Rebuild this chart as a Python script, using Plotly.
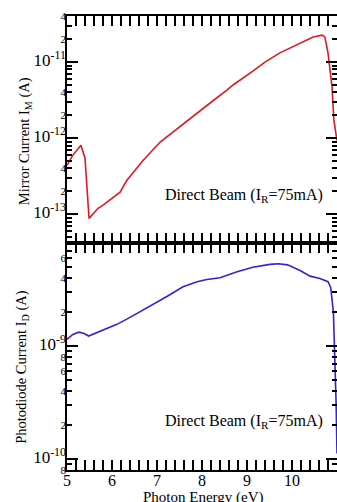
import numpy as np
import plotly.graph_objects as go

# ---------------- data ----------------
energy_mirror = [5.0, 5.13, 5.31, 5.40, 5.49, 5.58, 5.69, 5.80, 5.96, 6.18, 6.33, 6.69,
                 7.07, 7.29, 7.51, 7.73, 7.96, 8.18, 8.56, 8.69, 9.13, 9.40, 9.73, 10.10,
                 10.47, 10.67, 10.73, 10.80, 10.89, 10.93, 11.0]
mirror_current = [4.4e-13, 6.0e-13, 8.1e-13, 5.46e-13, 8.85e-14, 1.02e-13, 1.2e-13, 1.32e-13,
                  1.55e-13, 1.95e-13, 2.8e-13, 5.1e-13, 8.9e-13, 1.13e-12, 1.4e-12, 1.78e-12,
                  2.29e-12, 2.9e-12, 4.3e-12, 5.0e-12, 7.6e-12, 1.0e-11, 1.32e-11, 1.66e-11,
                  2.14e-11, 2.26e-11, 2.14e-11, 1.32e-11, 4.7e-12, 1.74e-12, 9.3e-13]

energy_diode = [5.0, 5.13, 5.26, 5.37, 5.48, 5.73, 5.96, 6.11, 6.4, 6.84, 7.22, 7.58, 7.89,
                8.11, 8.4, 8.78, 9.0, 9.13, 9.51, 9.7, 9.9, 10.18, 10.4, 10.62, 10.8, 10.86,
                10.92, 10.96, 10.98, 11.0]
diode_current = [1.15e-9, 1.27e-9, 1.33e-9, 1.30e-9, 1.23e-9, 1.36e-9, 1.48e-9, 1.56e-9,
                 1.80e-9, 2.24e-9, 2.75e-9, 3.36e-9, 3.72e-9, 3.89e-9, 4.03e-9, 4.57e-9,
                 4.83e-9, 5.0e-9, 5.3e-9, 5.37e-9, 5.25e-9, 4.68e-9, 4.17e-9, 3.98e-9,
                 3.72e-9, 3.31e-9, 2.0e-9, 6.3e-10, 3.16e-10, 1.12e-10]

x_ticks = [5, 6, 7, 8, 9, 10, 11]
x_ticktext = ["5", "6", "7", "8", "9", "10", "11"]

top_decades = [1e-13, 1e-12, 1e-11]
top_decade_text = ["10<sup>-13</sup>", "10<sup>-12</sup>", "10<sup>-11</sup>"]
top_small_vals = [2e-13, 4e-13, 2e-12, 4e-12, 2e-11, 4e-11]
top_small_text = ["2", "4", "2", "4", "2", "4"]

bot_decades = [1e-10, 1e-9]
bot_decade_text = ["10<sup>-10</sup>", "10<sup>-9</sup>"]
bot_small_vals = [8e-11, 2e-10, 4e-10, 6e-10, 8e-10, 2e-9, 4e-9, 6e-9]
bot_small_text = ["8", "2", "4", "6", "8", "2", "4", "6"]

top_range = [np.log10(4.2e-14), np.log10(4.03e-11)]
bot_range = [np.log10(7.99e-11), np.log10(8.2e-9)]

label_text = "Direct Beam (I<sub>R</sub>=75mA)"

# ---------------- figure ----------------
FONT = "Liberation Serif, Times New Roman, serif"
RED = "#e3191f"
BLUE = "#3a1fd4"
BIG = 17


def minor_vals(lo, hi):
    out = []
    for d in range(int(np.floor(lo)) - 1, int(np.ceil(hi)) + 1):
        for m in range(2, 10):
            v = m * 10.0 ** d
            if lo <= np.log10(v) <= hi:
                out.append(v)
    return out


def label_axis(decades, dtext, small, stext):
    vals = list(decades) + list(small)
    texts = [f"<span style='font-size:{BIG}px'>{t}</span>" for t in dtext] + list(stext)
    return vals, texts


fig = go.Figure()
fig.add_trace(go.Scatter(x=energy_mirror, y=mirror_current, mode="lines",
                         line=dict(color=RED, width=1.6), xaxis="x", yaxis="y",
                         showlegend=False))
fig.add_trace(go.Scatter(x=energy_diode, y=diode_current, mode="lines",
                         line=dict(color=BLUE, width=1.6), xaxis="x2", yaxis="y2",
                         showlegend=False))

axis_common = dict(showline=True, linecolor="black", linewidth=2, mirror="allticks",
                   ticks="inside", tickcolor="black", tickwidth=1.5, showgrid=False,
                   zeroline=False)

xcommon = dict(axis_common, range=[5, 11], tickmode="array", tickvals=x_ticks,
               ticktext=x_ticktext, ticklen=10, ticklabelstandoff=-5,
               minor=dict(dtick=0.2, tick0=5, ticklen=5, ticks="inside",
                          tickwidth=1.5, tickcolor="black"),
               tickfont=dict(family=FONT, size=16, color="black"))

tv3, tt3 = label_axis(top_decades, top_decade_text, top_small_vals, top_small_text)
tv4, tt4 = label_axis(bot_decades, bot_decade_text, bot_small_vals, bot_small_text)

overlay_common = dict(type="log", showline=False, showgrid=False, zeroline=False,
                      ticks="", tickmode="array", ticklabelstandoff=0,
                      tickfont=dict(family=FONT, size=11, color="black"))

fig.update_layout(
    width=337, height=502,
    margin=dict(l=67, r=0, t=16, b=32, autoexpand=False),
    paper_bgcolor="white", plot_bgcolor="white",
    xaxis=dict(xcommon, anchor="y", showticklabels=False),
    xaxis2=dict(xcommon, anchor="y2", matches="x", showticklabels=True),
    yaxis=dict(axis_common, type="log", domain=[0.5, 1], range=top_range, anchor="x",
               tickmode="array", tickvals=top_decades, ticklen=11, showticklabels=False,
               minor=dict(tickmode="array", tickvals=minor_vals(*top_range), ticklen=5,
                          ticks="inside", tickwidth=1.5, tickcolor="black")),
    yaxis3=dict(overlay_common, overlaying="y", anchor="x", range=top_range,
                tickvals=tv3, ticktext=tt3),
    yaxis2=dict(axis_common, type="log", domain=[0, 0.5], range=bot_range, anchor="x2",
                tickmode="array", tickvals=bot_decades, ticklen=11, showticklabels=False,
                minor=dict(tickmode="array", tickvals=minor_vals(*bot_range), ticklen=5,
                           ticks="inside", tickwidth=1.5, tickcolor="black")),
    yaxis4=dict(overlay_common, overlaying="y2", anchor="x2", range=bot_range,
                tickvals=tv4, ticktext=tt4),
)

# invisible traces so the overlay axes are drawn
fig.add_trace(go.Scatter(x=[None], y=[None], xaxis="x", yaxis="y3", showlegend=False,
                         hoverinfo="skip"))
fig.add_trace(go.Scatter(x=[None], y=[None], xaxis="x2", yaxis="y4", showlegend=False,
                         hoverinfo="skip"))

annots = [
    dict(text=label_text, x=7.13, y=-12.75, xref="x", yref="y", xanchor="left",
         yanchor="middle", showarrow=False, font=dict(family=FONT, size=16, color="black")),
    dict(text=label_text, x=7.13, y=-9.667, xref="x2", yref="y2", xanchor="left",
         yanchor="middle", showarrow=False, font=dict(family=FONT, size=16, color="black")),
    dict(text="Mirror Current I<sub>M</sub> (A)", x=-0.156, y=0.724, xref="paper",
         yref="paper", textangle=-90, xanchor="center", yanchor="middle", showarrow=False,
         font=dict(family=FONT, size=14.5, color="black")),
    dict(text="Photodiode Current I<sub>D</sub> (A)", x=-0.167, y=0.227, xref="paper",
         yref="paper", textangle=-90, xanchor="center", yanchor="middle", showarrow=False,
         font=dict(family=FONT, size=14.5, color="black")),
    dict(text="Photon Energy (eV)", x=0.504, y=-0.0615, xref="paper", yref="paper",
         xanchor="center", yanchor="middle", showarrow=False,
         font=dict(family=FONT, size=15, color="black")),
]
fig.update_layout(annotations=annots)

fig.write_html(
    "out.html",
    config={"displayModeBar": False},
    post_script=("document.body.style.margin='0';"
                 "document.body.style.overflow='hidden';"
                 "document.documentElement.style.overflow='hidden';"),
)
